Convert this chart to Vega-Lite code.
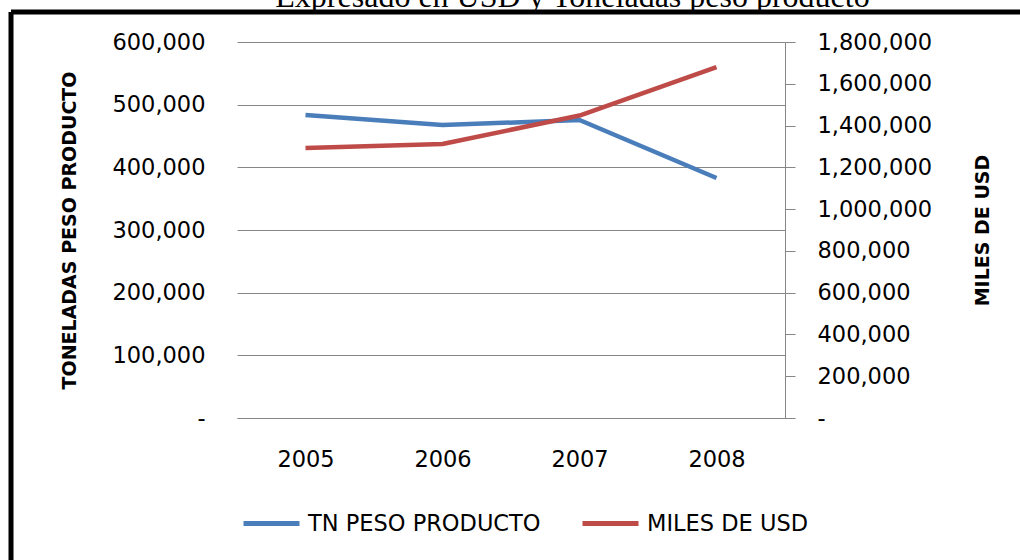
{
  "$schema": "https://vega.github.io/schema/vega-lite/v6.json",
  "width": 1009,
  "height": 548,
  "autosize": {"type": "none"},
  "padding": {"left": 11, "top": 12, "right": 0, "bottom": 0},
  "background": "white",
  "title": {
    "text": "Expresado en USD y Toneladas peso producto",
    "font": "Liberation Serif",
    "fontSize": 32,
    "fontWeight": "normal",
    "color": "black",
    "anchor": "middle",
    "baseline": "alphabetic",
    "offset": 0,
    "dy": 27,
    "dx": 57
  },
  "data": {
    "values": [
      {"year": "2005", "serie": "TN PESO PRODUCTO", "value": 483500},
      {"year": "2006", "serie": "TN PESO PRODUCTO", "value": 467500},
      {"year": "2007", "serie": "TN PESO PRODUCTO", "value": 475500},
      {"year": "2008", "serie": "TN PESO PRODUCTO", "value": 383000},
      {"year": "2005", "serie": "MILES DE USD", "value": 1292000},
      {"year": "2006", "serie": "MILES DE USD", "value": 1312000},
      {"year": "2007", "serie": "MILES DE USD", "value": 1448000},
      {"year": "2008", "serie": "MILES DE USD", "value": 1680000}
    ]
  },
  "encoding": {
    "x": {
      "field": "year",
      "type": "ordinal",
      "scale": {"range": [226, 774], "padding": 0.5},
      "axis": {
        "title": null,
        "orient": "bottom",
        "offset": -142,
        "labelAngle": 0,
        "ticks": false,
        "tickSize": 0,
        "labelPadding": 30,
        "domain": true,
        "domainColor": "#868686",
        "domainWidth": 1,
        "grid": false
      }
    },
    "color": {
      "field": "serie",
      "type": "nominal",
      "scale": {"domain": ["TN PESO PRODUCTO", "MILES DE USD"], "range": ["#4A7EBB", "#BE4B48"]},
      "legend": {
        "title": null,
        "orient": "none",
        "direction": "horizontal",
        "legendX": 230,
        "legendY": 481,
        "padding": 0,
        "symbolType": "stroke",
        "symbolSize": 3136,
        "symbolStrokeWidth": 5,
        "labelOffset": 6,
        "columnPadding": 31,
        "labelFont": "DejaVu Sans",
        "labelFontSize": 22.5,
        "labelColor": "black",
        "labelLimit": 0
      }
    }
  },
  "layer": [
    {
      "transform": [{"filter": "datum.serie === 'TN PESO PRODUCTO'"}],
      "mark": {"type": "line", "strokeWidth": 4.5, "strokeJoin": "round"},
      "encoding": {
        "y": {
          "field": "value",
          "type": "quantitative",
          "scale": {"domain": [0, 600000], "range": [406, 30], "nice": false, "zero": true},
          "axis": {
            "orient": "left",
            "offset": -226,
            "title": "TONELADAS PESO PRODUCTO",
            "titleFont": "DejaVu Sans",
            "titleFontSize": 19,
            "titleFontWeight": "bold",
            "titleColor": "black",
            "titleAngle": 270,
            "titleBaseline": "bottom",
            "titlePadding": 32,
            "values": [0, 100000, 200000, 300000, 400000, 500000, 600000],
            "labelExpr": "datum.value === 0 ? '-' : format(datum.value, ',')",
            "ticks": false,
            "tickSize": 0,
            "labelPadding": 32,
            "domain": false,
            "grid": true,
            "gridColor": "#868686",
            "gridWidth": 1
          }
        }
      }
    },
    {
      "transform": [{"filter": "datum.serie === 'MILES DE USD'"}],
      "mark": {"type": "line", "strokeWidth": 4.5, "strokeJoin": "round"},
      "encoding": {
        "y": {
          "field": "value",
          "type": "quantitative",
          "scale": {"domain": [0, 1800000], "range": [406, 30], "nice": false, "zero": true},
          "axis": {
            "orient": "right",
            "offset": -235,
            "title": "MILES DE USD",
            "titleFont": "DejaVu Sans",
            "titleFontSize": 19,
            "titleFontWeight": "bold",
            "titleColor": "black",
            "titleAngle": 270,
            "titleBaseline": "top",
            "titlePadding": 42,
            "values": [0, 200000, 400000, 600000, 800000, 1000000, 1200000, 1400000, 1600000, 1800000],
            "labelExpr": "datum.value === 0 ? '-' : format(datum.value, ',')",
            "ticks": true,
            "tickSize": 10,
            "tickColor": "#868686",
            "tickWidth": 1,
            "labelPadding": 22,
            "domain": true,
            "domainColor": "#868686",
            "domainWidth": 1,
            "grid": false
          }
        }
      }
    }
  ],
  "resolve": {"scale": {"y": "independent"}},
  "config": {
    "view": {"stroke": "black", "strokeWidth": 5, "strokeDash": [1009, 1557, 548, 0], "fill": "white"},
    "axis": {
      "labelFont": "DejaVu Sans",
      "labelFontSize": 22.5,
      "labelColor": "black"
    }
  }
}
